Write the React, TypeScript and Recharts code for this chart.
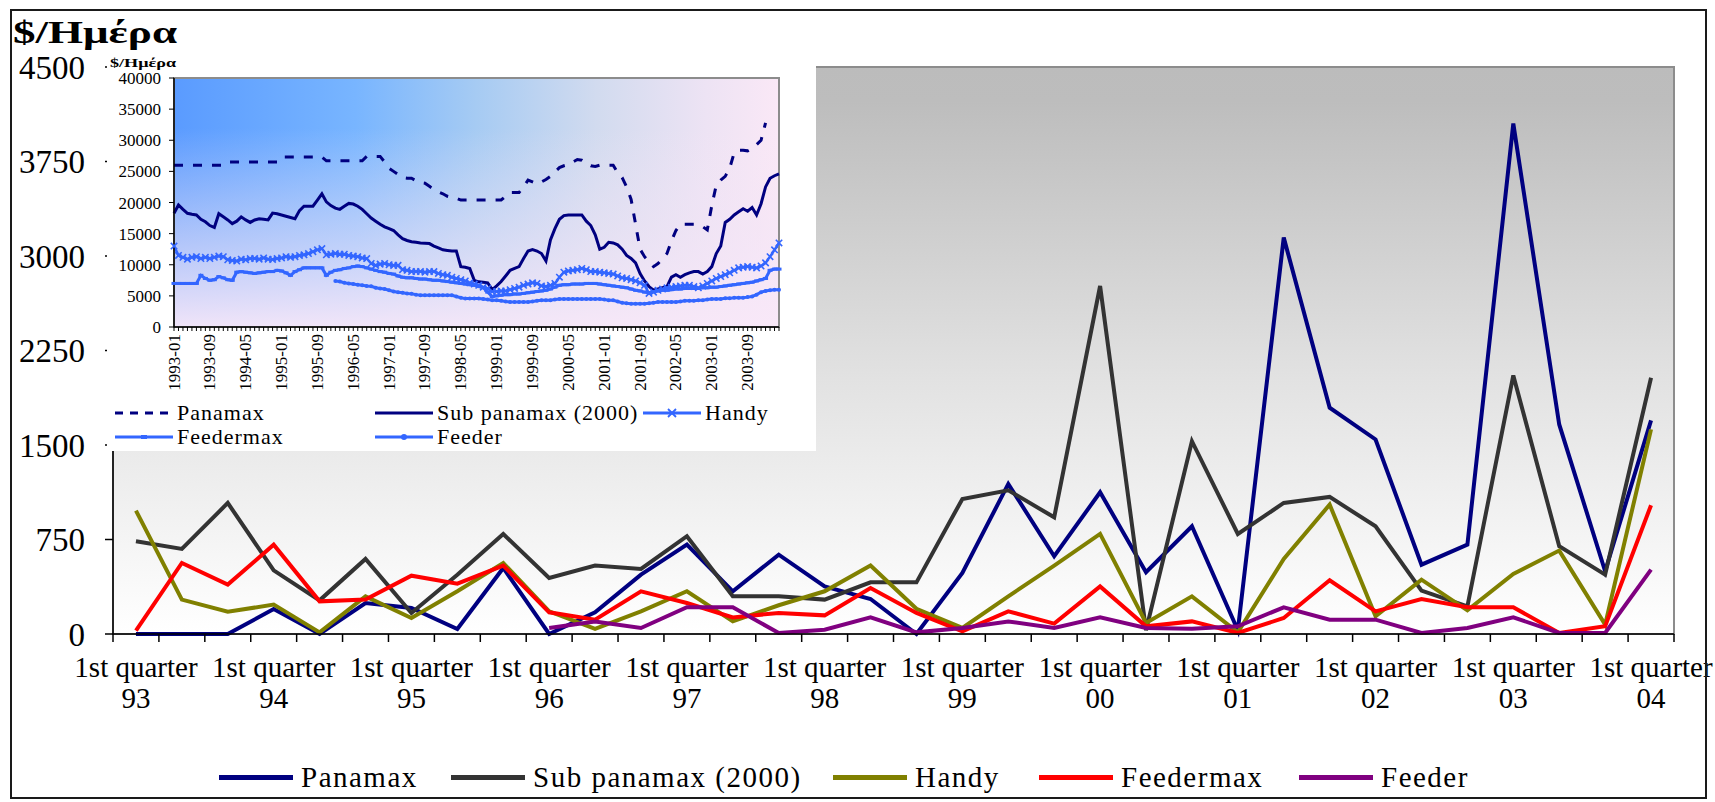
import React from 'react';
import { LineChart, Line, XAxis, YAxis, CartesianGrid, ReferenceArea } from 'recharts';

const FONT = '"Liberation Serif", "Times New Roman", serif';

// ---------- main chart data (3 observations per year, 1993 – 2004) ----------
const quarterLabel = '1st quarter';
const yearLabels = ['93', '94', '95', '96', '97', '98', '99', '00', '01', '02', '03', '04'];
const mainYTicks = [0, 750, 1500, 2250, 3000, 3750, 4500];

const mainPanamax = [0, 0, 0, 198, 0, 246, 206, 40, 524, 0, 172, 471, 709, 339, 630, 378, 278, 0,
  484, 1191, 617, 1125, 490, 855, 30, 3146, 1796, 1544, 550, 709, 4051, 1663, 498, 1695];
const mainSubPanamax = [736, 675, 1040, 505, 267, 596, 167, 470, 794, 445, 543, 516, 776, 299, 299, 273, 410, 410,
  1072, 1141, 926, 2762, 30, 1530, 794, 1040, 1088, 855, 344, 220, 2052, 696, 471, 2034];
const mainHandy = [979, 273, 177, 233, 13, 299, 127, 339, 564, 180, 40, 180, 339, 100, 228, 339, 543, 200,
  48, 299, 543, 794, 87, 299, 13, 596, 1027, 140, 431, 188, 476, 662, 74, 1624];
const mainFeedermax = [26, 564, 392, 709, 259, 273, 463, 400, 543, 172, 114, 339, 246, 132, 167, 148, 365, 167,
  21, 180, 82, 378, 61, 100, 8, 127, 426, 180, 278, 212, 212, 8, 61, 1022];
const mainFeeder = [null, null, null, null, null, null, null, null, null, 48, 100, 48, 212, 212, 8, 34, 132, 13,
  48, 100, 48, 132, 48, 42, 61, 212, 114, 114, 8, 48, 132, 8, 8, 511];

const mainSeries = [
  { key: 'panamax', name: 'Panamax', color: '#000080', values: mainPanamax },
  { key: 'sub', name: 'Sub panamax (2000)', color: '#333333', values: mainSubPanamax },
  { key: 'handy', name: 'Handy', color: '#808000', values: mainHandy },
  { key: 'feedermax', name: 'Feedermax', color: '#FF0000', values: mainFeedermax },
  { key: 'feeder', name: 'Feeder', color: '#800080', values: mainFeeder },
];

const mainData = mainPanamax.map((_, i) => {
  const row: any = { i };
  mainSeries.forEach((s) => { row[s.key] = s.values[i]; });
  return row;
});

const mainXTicks: number[] = [];
for (let k = 0; k <= mainData.length * 2; k++) mainXTicks.push(k / 2 - 0.5);

// ---------- inset data (monthly, 1993-01 … 2004-04) ----------
const insetTickLabels = ['1993-01', '1993-09', '1994-05', '1995-01', '1995-09', '1996-05', '1997-01', '1997-09',
  '1998-05', '1999-01', '1999-09', '2000-05', '2001-01', '2001-09', '2002-05', '2003-01', '2003-09'];
const insetYTicks = [0, 5000, 10000, 15000, 20000, 25000, 30000, 35000, 40000];

const insetPanamax = [
  26000, 26000, 26000, 26000, 26000, 26000, 26000, 26000, 26000, 26000, 26000, 26000,
  26500, 26500, 26500, 26500, 26500, 26500, 26500, 26500, 26500, 26500, 26500, 26500,
  27300, 27300, 27300, 27300, 27300, 27300, 27300, 27300, 27300, 27300, 26700, 26700,
  26700, 26700, 26700, 26700, 26700, 26700, 26700, 27400, 27400, 27400, 27400, 26500,
  25500, 25000, 24500, 24000, 23900, 23900, 23500, 23200, 23100, 22600, 22100, 21700,
  21400, 21000, 20800, 20700, 20400, 20400, 20400, 20400, 20400, 20400, 20400, 20400,
  20400, 20400, 21000, 21600, 21600, 21600, 22500, 23600, 23300, 23000, 23300, 23700,
  24200, 24900, 25600, 25900, 26100, 26500, 26900, 26800, 26300, 25900, 25800, 26000,
  26000, 26000, 26000, 24800, 24000, 22500, 20500, 16500, 12500, 11300, 10500, 9700,
  10200, 11000, 11800, 13800, 15500, 16500, 16500, 16500, 16500, 16300, 16100, 15600,
  19500, 22800, 23600, 24200, 25500, 28000, 28400, 28400, 28300, 28700, 29300, 30000,
  32800, null, null, null,
];
const insetSubPanamax = [
  18260, 19600, 18900, 18260, 18100, 18000, 17300, 16900, 16300, 16000, 18200, 17700,
  17200, 16600, 17000, 17700, 17200, 16800, 17200, 17400, 17300, 17200, 18300, 18200,
  18000, 17800, 17600, 17400, 18700, 19400, 19400, 19400, 20400, 21400, 20100, 19500,
  19100, 18900, 19400, 19850, 19750, 19400, 18900, 18200, 17500, 17000, 16500, 16100,
  15800, 15500, 14800, 14200, 13900, 13700, 13600, 13500, 13450, 13400, 13000, 12700,
  12400, 12300, 12200, 12200, 9700, 9600, 9400, 7500, 7250, 7200, 7100, 6000,
  6600, 7300, 8200, 9100, 9400, 9700, 11000, 12200, 12450, 12200, 11800, 10600,
  14000, 15800, 17300, 17900, 18000, 18000, 18000, 18000, 17000, 16300, 14800, 12500,
  12800, 13600, 13500, 13200, 12500, 11500, 11000, 10300, 8600, 7400, 6500, 5900,
  6100, 6300, 6500, 8000, 8400, 8000, 8400, 8700, 8900, 8900, 8500, 8900,
  9700, 11800, 13000, 16800, 17300, 18000, 18500, 19000, 18600, 19200, 18000, 19800,
  22500, 23900, 24300, 24600,
];
const insetHandy = [
  13000, 11500, 11200, 10900, 11200, 11300, 11000, 11200, 11000, 11200, 11400, 11300,
  10800, 10700, 10600, 10900, 10800, 11000, 11000, 10900, 11100, 10900, 10850, 11000,
  11100, 11300, 11200, 11300, 11500, 11600, 11800, 12100, 12400, 12600, 11600, 11700,
  11800, 11700, 11700, 11500, 11400, 11300, 11100, 11000, 10200, 9900, 10100, 10200,
  10000, 9900, 9900, 9200, 9100, 8900, 8900, 8900, 8800, 8900, 8900, 8600,
  8400, 8300, 8000, 7800, 7600, 7400, 7100, 6900, 6700, 6400, 6200, 5700,
  5700, 5800, 5800, 6000, 6200, 6400, 6700, 6900, 7100, 7000, 6600, 6500,
  6700, 7000, 8000, 8800, 9000, 9100, 9200, 9400, 9200, 8900, 8900, 8800,
  8700, 8600, 8500, 8200, 7900, 7800, 7600, 7400, 7100, 6700, 5400, 5600,
  5900, 6100, 6300, 6400, 6500, 6600, 6700, 6700, 6500, 6300, 6600, 7000,
  7400, 7800, 8100, 8400, 8700, 9100, 9500, 9600, 9700, 9600, 9500, 9800,
  10300, 11300, 12400, 13500,
];
const insetFeedermax = [
  7000, 7000, 7000, 7000, 7000, 7000, 8300, 7800, 7500, 7600, 8100, 7900,
  7600, 7500, 8800, 8900, 8800, 8700, 8600, 8700, 8800, 8900, 8900, 9100,
  9000, 8700, 8300, 8900, 9200, 9500, 9500, 9500, 9500, 9500, 8300, 8800,
  9100, 9200, 9400, 9500, 9700, 9800, 9700, 9500, 9300, 9100, 8900, 8800,
  8600, 8500, 8200, 8000, 7900, 7900, 7800, 7700, 7700, 7600, 7500, 7500,
  7400, 7300, 7200, 7100, 7000, 6900, 6800, 6700, 6500, 6300, 5600, 4900,
  5000, 5100, 5200, 5200, 5300, 5300, 5400, 5500, 5600, 5700, 5800, 5900,
  6100, 6400, 6700, 6800, 6800, 6900, 6900, 6900, 7000, 7000, 7000, 6900,
  6800, 6700, 6600, 6500, 6400, 6300, 6100, 5900, 5800, 5600, 5500, 5700,
  5800, 5900, 5900, 6000, 6100, 6100, 6200, 6200, 6200, 6200, 6300, 6300,
  6400, 6400, 6500, 6600, 6700, 6800, 6900, 7000, 7100, 7200, 7400, 7600,
  7800, 9100, 9300, 9300,
];
const insetFeeder = [
  null, null, null, null, null, null, null, null, null, null, null, null,
  null, null, null, null, null, null, null, null, null, null, null, null,
  null, null, null, null, null, null, null, null, null, null, null, null,
  7400, 7300, 7100, 7000, 6900, 6800, 6700, 6600, 6550, 6300, 6200, 6100,
  5900, 5700, 5600, 5500, 5400, 5350, 5200, 5100, 5100, 5100, 5100, 5100,
  5100, 5100, 5100, 4900, 4700, 4560, 4560, 4560, 4560, 4500, 4400, 4300,
  4300, 4200, 4100, 4000, 4000, 4000, 4000, 4000, 4100, 4200, 4300, 4300,
  4300, 4400, 4500, 4500, 4500, 4500, 4500, 4500, 4500, 4500, 4500, 4500,
  4400, 4300, 4300, 4100, 3900, 3800, 3750, 3750, 3750, 3750, 3800, 3900,
  4000, 4000, 4000, 4000, 4000, 4100, 4200, 4200, 4200, 4300, 4300, 4400,
  4500, 4500, 4500, 4600, 4600, 4700, 4700, 4700, 4800, 4900, 5200, 5600,
  5800, 5900, 6000, 6000,
];

const BLUE = '#3366FF';
const insetSeries = [
  { key: 'panamax', name: 'Panamax', color: '#000080', values: insetPanamax, marker: 'none', dash: '9 10' },
  { key: 'sub', name: 'Sub panamax (2000)', color: '#000080', values: insetSubPanamax, marker: 'none', dash: undefined },
  { key: 'handy', name: 'Handy', color: BLUE, values: insetHandy, marker: 'x', dash: undefined },
  { key: 'feedermax', name: 'Feedermax', color: BLUE, values: insetFeedermax, marker: 'dash', dash: undefined },
  { key: 'feeder', name: 'Feeder', color: BLUE, values: insetFeeder, marker: 'dot', dash: undefined },
];

const insetData = insetPanamax.map((_, i) => {
  const row: any = { m: i };
  insetSeries.forEach((s) => { row[s.key] = s.values[i]; });
  return row;
});
const insetXTicks = insetData.map((d) => d.m);

// ---------- layout (styles only) ----------
const mainLegendX = [219, 451, 833, 1039, 1299];
const insetLegendPos = [
  { x: 8, y: 355 }, { x: 268, y: 355 }, { x: 536, y: 355 },
  { x: 8, y: 379 }, { x: 268, y: 379 },
];

const MainXTick = (props: any) => {
  const { x, y, payload } = props;
  const v = payload.value as number;
  if (Math.abs(v - Math.round(v)) > 0.25) {
    return <line x1={x} x2={x} y1={y} y2={y + 8} stroke="#000" strokeWidth={1.5} />;
  }
  if (v % 3 !== 0) return <g />;
  const year = yearLabels[v / 3];
  return (
    <g>
      <text x={x} y={y + 33} textAnchor="middle" dominantBaseline="central" fontSize={29} fontFamily={FONT} fill="#000">{quarterLabel}</text>
      <text x={x} y={y + 64} textAnchor="middle" dominantBaseline="central" fontSize={29} fontFamily={FONT} fill="#000">{year}</text>
    </g>
  );
};

const InsetXTick = (props: any) => {
  const { x, y, payload } = props;
  const v = payload.value as number;
  const label = v % 8 === 0 ? insetTickLabels[v / 8] : null;
  return (
    <g>
      <line x1={x} x2={x} y1={y} y2={y + 4} stroke="#000" strokeWidth={1} />
      {label ? (
        <text transform={`translate(${x},${y + 7}) rotate(-90)`} textAnchor="end" dominantBaseline="central"
          fontSize={17} fontFamily={FONT} fill="#000">{label}</text>
      ) : null}
    </g>
  );
};

const makeMarker = (kind: string, color: string) => (props: any) => {
  const { cx, cy, index } = props;
  if (cx == null || cy == null || Number.isNaN(cx) || Number.isNaN(cy)) return <g key={index} />;
  if (kind === 'x') {
    const s = 3.2;
    return <path key={index} d={`M${cx - s},${cy - s}L${cx + s},${cy + s}M${cx - s},${cy + s}L${cx + s},${cy - s}`} stroke={color} strokeWidth={1.6} fill="none" />;
  }
  if (kind === 'dash') {
    return <rect key={index} x={cx - 2.5} y={cy - 1.5} width={5} height={3} fill={color} />;
  }
  if (kind === 'dot') {
    return <circle key={index} cx={cx} cy={cy} r={2} fill={color} />;
  }
  return <g key={index} />;
};

const LegendSample = ({ s, w }: { s: any; w: number }) => (
  <svg width={w} height={12} style={{ display: 'block' }}>
    <line x1={0} x2={w} y1={6} y2={6} stroke={s.color} strokeWidth={3} strokeDasharray={s.dash ? '8 7' : undefined} />
    {s.marker === 'x' ? <path d={`M${w / 2 - 4},2L${w / 2 + 4},10M${w / 2 - 4},10L${w / 2 + 4},2`} stroke={s.color} strokeWidth={1.8} /> : null}
    {s.marker === 'dash' ? <rect x={w / 2 - 3} y={4} width={6} height={4} fill={s.color} /> : null}
    {s.marker === 'dot' ? <circle cx={w / 2} cy={6} r={3} fill={s.color} /> : null}
  </svg>
);

export default function App() {
  return (
    <div style={{ position: 'absolute', left: 0, top: 0, width: 1715, height: 802, overflow: 'hidden', background: '#fff', fontFamily: FONT }}>
      {/* main chart */}
      <div style={{ position: 'absolute', left: 0, top: 0 }}>
        <LineChart width={1715} height={802} data={mainData} margin={{ top: 67, right: 41, left: 53, bottom: 68 }}>
          <defs>
            <linearGradient id="mainBg" x1="0" y1="0" x2="0" y2="1">
              <stop offset="0%" stopColor="#bcbcbc" />
              <stop offset="6%" stopColor="#bdbdbd" />
              <stop offset="55%" stopColor="#e2e2e2" />
              <stop offset="100%" stopColor="#ffffff" />
            </linearGradient>
          </defs>
          <CartesianGrid horizontal={false} vertical={false} fill="url(#mainBg)" fillOpacity={1} />
          <XAxis dataKey="i" type="number" domain={[-0.5, mainData.length - 0.5]} ticks={mainXTicks} interval={0}
            tick={<MainXTick />} tickLine={false} tickSize={0} tickMargin={0} height={100}
            axisLine={{ stroke: '#000', strokeWidth: 1.5 }} allowDecimals />
          <YAxis type="number" domain={[0, 4500]} ticks={mainYTicks} interval={0} width={60} tickSize={8} tickMargin={20}
            tick={{ fontSize: 33, fill: '#000', fontFamily: FONT }} tickLine={{ stroke: '#000', strokeWidth: 1.5 }}
            axisLine={{ stroke: '#000', strokeWidth: 1.5 }} />
          <ReferenceArea x1={-0.5} x2={mainData.length - 0.5} y1={0} y2={4500} fill="none" stroke="#8c8c8c" strokeWidth={2} ifOverflow="visible" />
          {mainSeries.map((s) => (
            <Line key={s.key} dataKey={s.key} name={s.name} stroke={s.color} strokeWidth={4} dot={false}
              isAnimationActive={false} connectNulls={false} type="linear" />
          ))}
        </LineChart>
      </div>

      {/* inset */}
      <div style={{ position: 'absolute', left: 107, top: 56, width: 709, height: 395, background: '#fff' }}>
        <LineChart width={709} height={347} data={insetData} margin={{ top: 22, right: 37, left: 7, bottom: 15 }}>
          <defs>
            <linearGradient id="insetH" x1="0" y1="0" x2="1" y2="0">
              <stop offset="0%" stopColor="#5a9bff" />
              <stop offset="30%" stopColor="#78b5ff" />
              <stop offset="50%" stopColor="#a6cbf3" />
              <stop offset="70%" stopColor="#d2dbef" />
              <stop offset="88%" stopColor="#ede3f4" />
              <stop offset="100%" stopColor="#fae8f6" />
            </linearGradient>
            <linearGradient id="insetV" x1="0" y1="0" x2="0" y2="1">
              <stop offset="0%" stopColor="#f6e6f6" stopOpacity={0} />
              <stop offset="20%" stopColor="#f6e6f6" stopOpacity={0} />
              <stop offset="60%" stopColor="#f3e5f6" stopOpacity={0.5} />
              <stop offset="100%" stopColor="#f8e8f8" stopOpacity={0.95} />
            </linearGradient>
          </defs>
          <CartesianGrid horizontal={false} vertical={false} fill="url(#insetH)" fillOpacity={1} />
          <CartesianGrid horizontal={false} vertical={false} fill="url(#insetV)" fillOpacity={1} />
          <XAxis dataKey="m" type="number" domain={[0, insetData.length - 1]} ticks={insetXTicks} interval={0}
            tick={<InsetXTick />} tickLine={false} tickSize={0} tickMargin={0} height={61}
            axisLine={{ stroke: '#000', strokeWidth: 1.5 }} />
          <YAxis type="number" domain={[0, 40000]} ticks={insetYTicks} interval={0} width={60} tickSize={5} tickMargin={8}
            tick={{ fontSize: 17, fill: '#000', fontFamily: FONT }} tickLine={{ stroke: '#000' }}
            axisLine={{ stroke: '#000', strokeWidth: 1.5 }} />
          <ReferenceArea x1={0} x2={insetData.length - 1} y1={0} y2={40000} fill="none" stroke="#8c8c8c" strokeWidth={2} ifOverflow="visible" />
          {insetSeries.map((s) => (
            <Line key={s.key} dataKey={s.key} name={s.name} stroke={s.color} strokeWidth={s.marker === 'x' ? 2.5 : 3}
              strokeDasharray={s.dash} dot={s.marker === 'none' ? false : makeMarker(s.marker, s.color)}
              isAnimationActive={false} connectNulls={false} type="linear" />
          ))}
        </LineChart>
        {insetSeries.map((s, k) => (
          <div key={s.key} style={{ position: 'absolute', left: insetLegendPos[k].x, top: insetLegendPos[k].y - 10, height: 24, display: 'flex', alignItems: 'center' }}>
            <LegendSample s={s} w={58} />
            <span style={{ marginLeft: 4, fontSize: 22, letterSpacing: 1, color: '#000', whiteSpace: 'nowrap', fontFamily: FONT }}>{s.name}</span>
          </div>
        ))}
      </div>

      {/* main legend */}
      {mainSeries.map((s, k) => (
        <div key={s.key} style={{ position: 'absolute', left: mainLegendX[k], top: 757, height: 40, display: 'flex', alignItems: 'center' }}>
          <div style={{ width: 74, height: 5, background: s.color }} />
          <span style={{ marginLeft: 8, fontSize: 29, letterSpacing: 1.5, color: '#000', whiteSpace: 'nowrap', fontFamily: FONT }}>{s.name}</span>
        </div>
      ))}

      {/* titles */}
      <svg width={1715} height={802} style={{ position: 'absolute', left: 0, top: 0, pointerEvents: 'none' }}>
        <text x={13} y={43} fontSize={32} fontWeight="bold" fontFamily={FONT} textLength={164} lengthAdjust="spacingAndGlyphs" fill="#000">$/Ημέρα</text>
        <text x={110} y={67} fontSize={12} fontWeight="bold" fontFamily={FONT} textLength={66} lengthAdjust="spacingAndGlyphs" fill="#000">$/Ημέρα</text>
      </svg>

      {/* outer frame */}
      <div style={{ position: 'absolute', left: 10, top: 9, width: 1697, height: 790, boxSizing: 'border-box', border: '2px solid #1a1a1a', pointerEvents: 'none' }} />
    </div>
  );
}
